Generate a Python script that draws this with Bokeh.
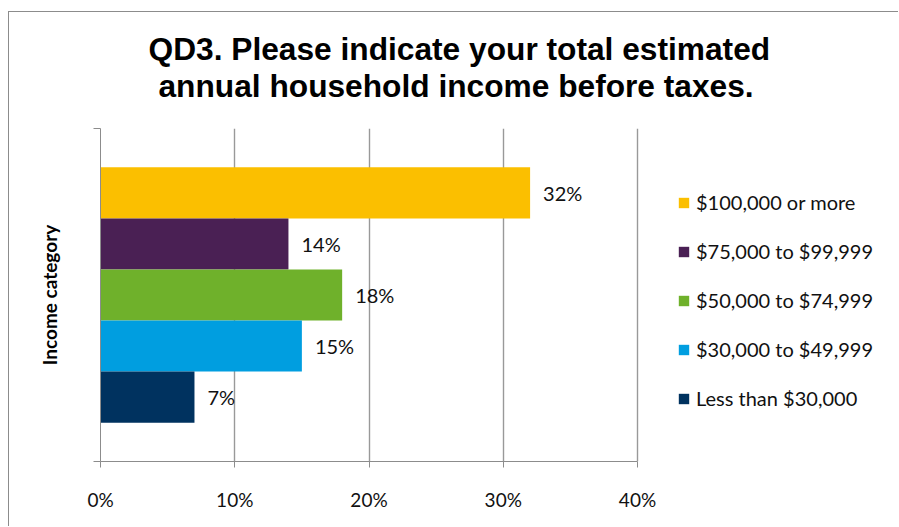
from bokeh.plotting import figure
from bokeh.models import (ColumnDataSource, Range1d, FixedTicker,
                          NumeralTickFormatter, Title)
from bokeh.core.properties import value
from bokeh.embed import file_html
from bokeh.resources import INLINE

# ---- data ----
categories = ["$100,000 or more", "$75,000 to $99,999", "$50,000 to $74,999",
              "$30,000 to $49,999", "Less than $30,000"]
shares = [0.32, 0.14, 0.18, 0.15, 0.07]
colors = ["#FBBF00", "#4A2054", "#6FB12B", "#009EE0", "#00325F"]
x_ticks = [0, 0.1, 0.2, 0.3, 0.4]
title_lines = ["QD3. Please indicate your total estimated",
               "annual household income before taxes."]
y_axis_title = "Income category"

n = len(categories)
ypos = [n - 1 - i for i in range(n)]          # first category on top
labels = [f"{round(v * 100)}%" for v in shares]
src = ColumnDataSource(dict(cat=categories, y=ypos, val=shares, color=colors, label=labels))

FONT = "Lato"
AXC = "#8c8c8c"
PAD = 0.76
y0, y1 = -0.5 - PAD, n - 0.5 + PAD
AX_MAX = x_ticks[-1]
X_END = 0.581   # frame also hosts the legend on its right side

p = figure(width=890, height=515, output_backend="svg", toolbar_location=None,
           y_range=Range1d(y0, y1), x_range=Range1d(0, X_END),
           min_border_left=91, min_border_right=19, min_border_top=116,
           min_border_bottom=66,
           styles={"margin-left": "8px", "margin-top": "11px",
                   "border-left": "1px solid #8c8c8c",
                   "border-top": "1px solid #8c8c8c"})
p.outline_line_color = None
p.background_fill_color = "white"
p.border_fill_color = "white"

p.hbar(y="y", left=0, right="val", height=1.0, fill_color="color", line_color=None,
       source=src, legend_field="cat")
p.text(x="val", y="y", text="label", x_offset=13, text_baseline="middle",
       text_align="left", text_font=value(FONT), text_font_size="20px",
       text_color="#111111", source=src)

# x axis
xa = p.xaxis[0]
xa.ticker = FixedTicker(ticks=x_ticks)
xa.bounds = (0, AX_MAX)
xa.formatter = NumeralTickFormatter(format="0%")
xa.axis_line_color = AXC
xa.major_tick_line_color = AXC
xa.major_tick_out = 6
xa.major_tick_in = 0
xa.minor_tick_line_color = None
xa.major_label_text_font = FONT
xa.major_label_text_font_size = "19px"
xa.major_label_text_color = "#111111"
xa.major_label_standoff = 20

p.xgrid.ticker = FixedTicker(ticks=x_ticks)
p.xgrid.grid_line_color = "#999999"
p.xgrid.grid_line_width = 1.4
p.ygrid.visible = False

# y axis (edge ticks only)
ya = p.yaxis[0]
ya.ticker = FixedTicker(ticks=[y0, y1])
ya.major_label_overrides = {y0: "", y1: ""}
ya.major_label_standoff = 0
ya.axis_label = y_axis_title
ya.axis_label_text_font = FONT
ya.axis_label_text_font_style = "bold"
ya.axis_label_text_font_size = "19px"
ya.axis_label_text_color = "#000000"
ya.axis_label_standoff = 33
ya.axis_line_color = AXC
ya.major_tick_line_color = AXC
ya.major_tick_out = 7
ya.major_tick_in = 0
ya.minor_tick_line_color = None

# legend (inside the wide frame, right of the 40% line)
lg = p.legend[0]
lg.location = (577, 51)
lg.padding = 0
lg.margin = 0
lg.border_line_color = None
lg.background_fill_alpha = 0
lg.glyph_width = 13
lg.glyph_height = 13
lg.label_height = 24
lg.spacing = 25
lg.label_standoff = 6
lg.label_text_font = FONT
lg.label_text_font_size = "20px"
lg.label_text_color = "#111111"

# title (two lines, nearest-to-frame first)
p.add_layout(Title(text=title_lines[1], align="left", offset=58, standoff=50,
                   text_font="Liberation Sans", text_font_style="bold",
                   text_font_size="31.7px", text_color="#000000"), "above")
p.add_layout(Title(text=title_lines[0], align="left", offset=48, standoff=-52,
                   text_font="Liberation Sans", text_font_style="bold",
                   text_font_size="31.7px", text_color="#000000"), "above")

open("out.html", "w").write(file_html(p, INLINE))
